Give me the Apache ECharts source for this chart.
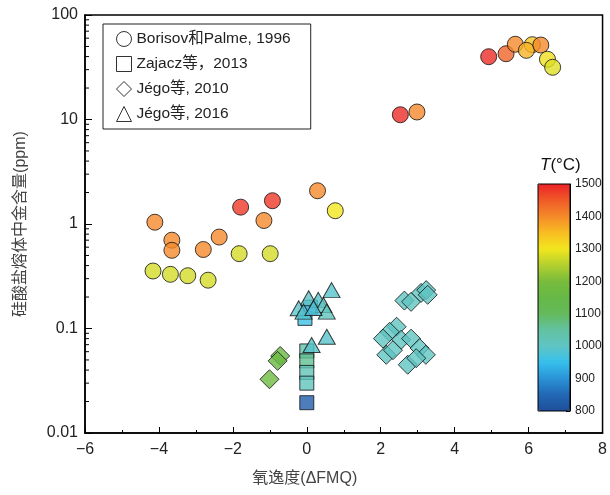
<!DOCTYPE html>
<html>
<head>
<meta charset="utf-8">
<script src="https://cdn.jsdelivr.net/npm/echarts@6/dist/echarts.min.js"></script>
<style>
  html, body { margin: 0; padding: 0; background: #fff; }
  #chart { width: 610px; height: 495px; }
</style>
</head>
<body>
<div id="chart"></div>
<script>
// Borisov和Palme, 1996
var circleX = [-4.11, -3.65, -3.65, -2.80, -2.37, -1.79, -0.93, -1.16, 0.29, 0.77, -1.83, -0.99, -4.16, -3.69, -3.22, -2.67,
  4.92, 5.39, 5.64, 6.10, 5.94, 6.33, 6.51, 6.65, 2.53, 2.98];
var circleY = [1.04, 0.70, 0.56, 0.57, 0.75, 1.45, 1.67, 1.08, 2.08, 1.34, 0.52, 0.52, 0.355, 0.33, 0.32, 0.29,
  39.9, 42.6, 52.5, 52.0, 45.9, 51.6, 37.7, 31.6, 11.1, 11.8];
var circleT = [1400, 1400, 1400, 1400, 1400, 1480, 1480, 1400, 1400, 1300, 1275, 1275, 1275, 1275, 1275, 1275,
  1490, 1440, 1400, 1340, 1360, 1400, 1310, 1285, 1490, 1400];

// Zajacz等, 2013
var squareX = [-0.05, 0.10, 0, 0, 0, 0, 0];
var squareY = [0.125, 0.16, 0.061, 0.049, 0.038, 0.030, 0.0195];
var squareT = [960, 930, 1040, 1060, 1020, 1010, 830];

// Jégo等, 2010
var diamondX = [-0.72, -0.79, -1.01, 2.64, 2.82, 3.09, 3.23, 3.27,
  2.43, 2.24, 2.06, 2.55, 2.82, 3.05, 3.22, 2.15, 2.33, 2.73, 2.96];
var diamondY = [0.0546, 0.049, 0.0327, 0.185, 0.18, 0.219, 0.233, 0.21,
  0.104, 0.093, 0.080, 0.078, 0.080, 0.065, 0.056, 0.056, 0.062, 0.045, 0.052];
var diamondT = [1160, 1160, 1170, 1005, 1005, 1005, 1005, 1005,
  1005, 1005, 1005, 1005, 1005, 1005, 1005, 1005, 1005, 1005, 1005];

// Jégo等, 2016
var triangleX = [0.67, 0.05, -0.22, -0.09, 0.31, 0.45, 0.54, 0.18, 0.13, 0.54];
var triangleY = [0.233, 0.195, 0.156, 0.145, 0.188, 0.168, 0.145, 0.157, 0.0695, 0.0835];
var triangleT = [990, 1000, 995, 985, 990, 1005, 1010, 980, 990, 990];

// 对数轴次刻度
var minorTicks = [];
[0.01, 0.1, 1, 10].forEach(function (d) {
  for (var k = 2; k <= 9; k++) minorTicks.push(+(k * d).toPrecision(3));
});

var tempColors = ['#1f4e9a', '#2268b4', '#2a92d6', '#36c0ec', '#60c4c4', '#62c2a0', '#64ba5c', '#66b846',
  '#78bc3c', '#b4d02e', '#f2e61e', '#f8bc22', '#f48a2a', '#f05a28', '#ec2227'];

function zip(xs, ys, ts) {
  return xs.map(function (x, i) { return [x, ys[i], ts[i]]; });
}

var font = 'Liberation Sans, Arial, Noto Sans CJK SC, sans-serif';
var edge = { color: '#000', borderColor: '#111', borderWidth: 1 };
var hollow = { color: '#fff', borderColor: '#000', borderWidth: 1 };

var myChart = echarts.init(document.getElementById('chart'));
var option = {
  animation: false,
  textStyle: { fontFamily: font },
  title: {
    text: '{i|T}(°C)',
    left: 535, top: 152,
    textStyle: {
      fontSize: 17, fontWeight: 'normal', color: '#111', fontFamily: font,
      rich: { i: { fontStyle: 'italic', fontSize: 17, color: '#111', fontFamily: font } }
    }
  },
  legend: {
    orient: 'vertical',
    left: 103, top: 24,
    padding: [7, 20, 7, 13],
    itemGap: 9,
    itemWidth: 15, itemHeight: 15,
    borderColor: '#222', borderWidth: 1,
    selectedMode: false,
    textStyle: { fontSize: 15.5, color: '#222', fontFamily: font },
    data: [
      { name: 'Borisov和Palme, 1996', icon: 'circle', itemStyle: hollow },
      { name: 'Zajacz等，2013', icon: 'rect', itemStyle: hollow },
      { name: 'Jégo等, 2010', icon: 'path://M0,-10L10,0L0,10L-10,0Z', itemStyle: hollow },
      { name: 'Jégo等, 2016', icon: 'triangle', itemStyle: hollow }
    ]
  },
  visualMap: {
    type: 'continuous',
    min: 800, max: 1500,
    dimension: 2,
    seriesIndex: [0, 1, 2, 3],
    left: 538, top: 184,
    itemWidth: 32, itemHeight: 227,
    padding: 0,
    calculable: false,
    hoverLink: false,
    inRange: { color: tempColors }
  },
  grid: [
    { left: 85, right: 4, top: 15, bottom: 62, show: true, borderColor: '#000', borderWidth: 1.5, backgroundColor: 'transparent' },
    { left: 538, top: 184, width: 32, height: 227, show: true, borderColor: '#000', borderWidth: 1, backgroundColor: 'transparent', z: 10 }
  ],
  xAxis: [
    {
      type: 'value', min: -6, max: 8, interval: 2,
      name: '氧逸度(ΔFMQ)', nameLocation: 'middle', nameGap: 38,
      nameTextStyle: { fontSize: 16, color: '#444', padding: [0, 78, 0, 0], fontFamily: font },
      axisLine: { onZero: false, lineStyle: { color: '#000', width: 1.5 } },
      axisTick: { inside: true, length: 6, lineStyle: { color: '#000' } },
      minorTick: { show: true, splitNumber: 2, length: 3, lineStyle: { color: '#000' } },
      axisLabel: {
        fontSize: 16, color: '#222', margin: 9,
        formatter: function (v) { return v < 0 ? '\u2212' + Math.abs(v) : String(v); }
      },
      splitLine: { show: false }
    },
    { gridIndex: 1, type: 'value', show: false }
  ],
  yAxis: [
    {
      type: 'log', logBase: 10, min: 0.01, max: 100,
      name: '硅酸盐熔体中金含量(ppm)', nameLocation: 'middle', nameGap: 56,
      nameTextStyle: { fontSize: 16, color: '#444', fontFamily: font },
      axisLine: { onZero: false, lineStyle: { color: '#000', width: 1.5 } },
      axisTick: { inside: true, length: 7, lineStyle: { color: '#000' } },
      axisLabel: {
        fontSize: 16, color: '#222', margin: 7,
        formatter: function (v) { return String(+v.toPrecision(3)); }
      },
      splitLine: { show: false }
    },
    {
      gridIndex: 1, type: 'value', min: 800, max: 1500, interval: 100,
      position: 'right',
      axisLine: { show: true, onZero: false, lineStyle: { color: '#000', width: 1 } },
      axisTick: { inside: true, length: 4, lineStyle: { color: '#000' } },
      axisLabel: { fontSize: 12, color: '#222', margin: 5, formatter: function (v) { return String(v); } },
      splitLine: { show: false }
    }
  ],
  series: [
    {
      name: 'Borisov和Palme, 1996', type: 'scatter', symbol: 'circle', symbolSize: 16,
      itemStyle: edge, data: zip(circleX, circleY, circleT)
    },
    {
      name: 'Zajacz等，2013', type: 'scatter', symbol: 'rect', symbolSize: 14,
      itemStyle: edge, data: zip(squareX, squareY, squareT)
    },
    {
      name: 'Jégo等, 2010', type: 'scatter', symbol: 'diamond', symbolSize: 19,
      itemStyle: edge, data: zip(diamondX, diamondY, diamondT)
    },
    {
      name: 'Jégo等, 2016', type: 'scatter', symbol: 'triangle', symbolSize: [17, 15],
      itemStyle: edge, data: zip(triangleX, triangleY, triangleT)
    },
    {
      type: 'custom', silent: true,
      data: minorTicks.map(function (v) { return [-6, v]; }),
      renderItem: function (params, api) {
        var p = api.coord([api.value(0), api.value(1)]);
        return {
          type: 'line',
          shape: { x1: p[0], y1: p[1], x2: p[0] + 4, y2: p[1] },
          style: { stroke: '#000', lineWidth: 1 }
        };
      }
    }
  ]
};
myChart.setOption(option);
window.addEventListener('resize', myChart.resize);
</script>
</body>
</html>
